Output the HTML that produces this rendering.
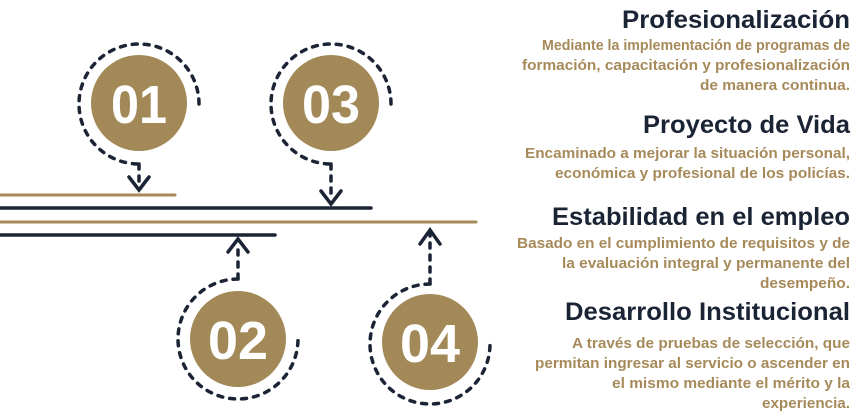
<!DOCTYPE html>
<html><head><meta charset="utf-8"><style>
html,body{margin:0;padding:0;background:#fff;}
svg{display:block;}
.t{font-family:"Liberation Sans",sans-serif;font-weight:bold;fill:#1b2435;font-size:25px;}
.b{font-family:"Liberation Sans",sans-serif;font-weight:bold;fill:#a68a5a;font-size:15px;}
.n{font-family:"Liberation Sans",sans-serif;font-weight:bold;fill:#fff;font-size:54px;}
</style></head><body>
<svg width="863" height="420" viewBox="0 0 863 420" xmlns="http://www.w3.org/2000/svg">
<g stroke-linecap="round" fill="none">
<line x1="0" y1="195" x2="175" y2="195" stroke="#a68a5a" stroke-width="3"/>
<line x1="0" y1="208" x2="371" y2="208" stroke="#1b2435" stroke-width="3.5"/>
<line x1="0" y1="222" x2="476" y2="222" stroke="#a68a5a" stroke-width="3"/>
<line x1="0" y1="235" x2="275" y2="235" stroke="#1b2435" stroke-width="3.5"/>
</g>
<g fill="#a38957">
<circle cx="139" cy="103" r="48"/>
<circle cx="331" cy="103" r="48"/>
<circle cx="238" cy="339" r="48"/>
<circle cx="430" cy="342" r="48"/>
</g>
<g fill="none" stroke="#1b2435" stroke-width="3.5" stroke-dasharray="5 7" stroke-linecap="round">
<path d="M199,104 A60,60 0 1 0 139,164"/>
<path d="M391,104 A60,60 0 1 0 331,164"/>
<path d="M238,279 A60,60 0 1 0 298,339"/>
<path d="M430,284 A60,60 0 1 0 490,344"/>
<line x1="139" y1="164" x2="139" y2="186"/>
<line x1="331" y1="164" x2="331" y2="200"/>
<line x1="238" y1="279" x2="238" y2="243"/>
<line x1="430" y1="284" x2="430" y2="232"/>
</g>
<g fill="none" stroke="#1b2435" stroke-width="3.5" stroke-linecap="round" stroke-linejoin="miter">
<polyline points="129,177 139,190 149,177"/>
<polyline points="321,191 331,204 341,191"/>
<polyline points="228,252 238,239 248,252"/>
<polyline points="420,244 430,230 440,244"/>
</g>
<g text-anchor="middle">
<text class="n" x="139" y="123" textLength="56" lengthAdjust="spacingAndGlyphs">01</text>
<text class="n" x="331" y="123" textLength="58" lengthAdjust="spacingAndGlyphs">03</text>
<text class="n" x="238" y="359" textLength="60" lengthAdjust="spacingAndGlyphs">02</text>
<text class="n" x="430" y="362" textLength="60" lengthAdjust="spacingAndGlyphs">04</text>
</g>
<g text-anchor="end">
<text class="t" x="850" y="28" textLength="228" lengthAdjust="spacingAndGlyphs">Profesionalización</text>
<text class="b" x="850" y="50" textLength="308" lengthAdjust="spacingAndGlyphs">Mediante la implementación de programas de</text>
<text class="b" x="850" y="70" textLength="328" lengthAdjust="spacingAndGlyphs">formación, capacitación y profesionalización</text>
<text class="b" x="850" y="90" textLength="150" lengthAdjust="spacingAndGlyphs">de manera continua.</text>
<text class="t" x="850" y="133" textLength="207" lengthAdjust="spacingAndGlyphs">Proyecto de Vida</text>
<text class="b" x="850" y="158" textLength="325" lengthAdjust="spacingAndGlyphs">Encaminado a mejorar la situación personal,</text>
<text class="b" x="850" y="178" textLength="295" lengthAdjust="spacingAndGlyphs">económica y profesional de los policías.</text>
<text class="t" x="850" y="225" textLength="298" lengthAdjust="spacingAndGlyphs">Estabilidad en el empleo</text>
<text class="b" x="850" y="248" textLength="333" lengthAdjust="spacingAndGlyphs">Basado en el cumplimiento de requisitos y de</text>
<text class="b" x="850" y="268" textLength="288" lengthAdjust="spacingAndGlyphs">la evaluación integral y permanente del</text>
<text class="b" x="850" y="288" textLength="90" lengthAdjust="spacingAndGlyphs">desempeño.</text>
<text class="t" x="850" y="320" textLength="285" lengthAdjust="spacingAndGlyphs">Desarrollo Institucional</text>
<text class="b" x="850" y="348" textLength="278" lengthAdjust="spacingAndGlyphs">A través de pruebas de selección, que</text>
<text class="b" x="850" y="368" textLength="315" lengthAdjust="spacingAndGlyphs">permitan ingresar al servicio o ascender en</text>
<text class="b" x="850" y="388" textLength="238" lengthAdjust="spacingAndGlyphs">el mismo mediante el mérito y la</text>
<text class="b" x="850" y="408" textLength="88" lengthAdjust="spacingAndGlyphs">experiencia.</text>
</g>
</svg>
</body></html>
